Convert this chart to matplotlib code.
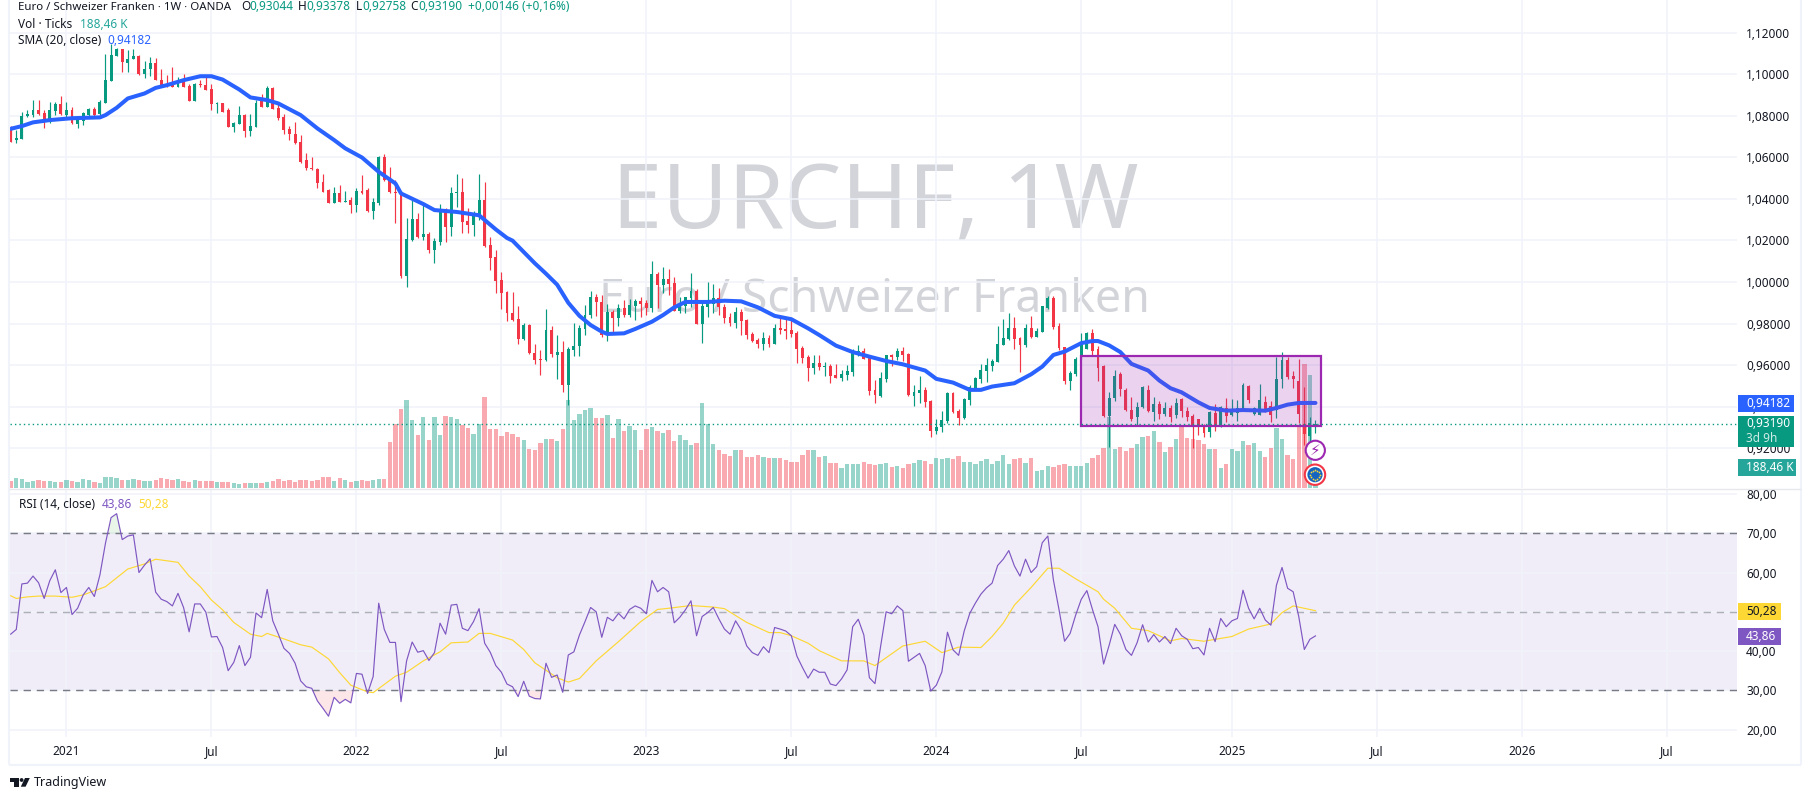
import numpy as np
import matplotlib
matplotlib.use("Agg")
import matplotlib.pyplot as plt
from matplotlib.patches import Rectangle, Circle, Polygon
from matplotlib import font_manager
from matplotlib.transforms import IdentityTransform, blended_transform_factory

directions = ("rggggrrggr" "grgggrgggg" "rggrggrrrr" "grrgrrrgrr" "ggrggrgrrr" "rrrrrrrrgr"
              "grgrrggrrr" "rggrgrggrg" "grrggrrrrr" "rrgrrrgrgr" "gggggrrgrg" "rggrrgrgrr"
              "gggrgggrrr" "grrrrgrgrr" "rrrrgrgrrg" "gggrrrggrg" "rrggrrgggr" "rggggggggg"
              "rrgrgggrrr" "ggggrrrggr" "rrggrgrgrg" "rrrrrgrgrg" "ggrggrrggr" "rrrgg")
highs = [1.0750,1.0731,1.0819,1.0827,1.0875,1.0875,1.0827,1.0864,1.0867,1.0894,
1.0867,1.0843,1.0798,1.0816,1.0838,1.0843,1.0875,1.1099,1.1147,1.1127,
1.1120,1.1115,1.1119,1.1091,1.1064,1.1083,1.1080,1.1024,1.0995,1.1032,
1.0987,1.1003,1.0952,1.0958,1.0974,1.0990,1.0952,1.0867,1.0862,1.0835,
1.0769,1.0846,1.0806,1.0808,1.0878,1.0904,1.0942,1.0939,1.0867,1.0808,
1.0750,1.0769,1.0707,1.0619,1.0599,1.0550,1.0522,1.0447,1.0458,1.0466,
1.0438,1.0410,1.0450,1.0514,1.0450,1.0405,1.0606,1.0615,1.0555,1.0490,
1.0439,1.0306,1.0394,1.0330,1.0386,1.0242,1.0210,1.0375,1.0354,1.0458,
1.0519,1.0498,1.0354,1.0343,1.0519,1.0482,1.0215,1.0154,1.0050,0.9955,
0.9954,0.9886,0.9803,0.9800,0.9704,0.9675,0.9870,0.9790,0.9747,0.9718,
0.9686,0.9803,0.9795,0.9891,0.9959,0.9944,0.9938,0.9894,0.9865,0.9894,
0.9913,0.9918,0.9918,0.9926,0.9913,1.0101,1.0046,1.0074,1.0063,1.0022,
0.9929,0.9929,1.0045,0.9966,0.9913,1.0002,0.9989,0.9970,0.9894,0.9849,
0.9881,0.9869,0.9822,0.9761,0.9729,0.9761,0.9745,0.9796,0.9841,0.9825,
0.9817,0.9764,0.9692,0.9647,0.9647,0.9649,0.9617,0.9604,0.9606,0.9577,
0.9601,0.9676,0.9697,0.9681,0.9638,0.9529,0.9569,0.9649,0.9654,0.9681,
0.9686,0.9657,0.9505,0.9550,0.9497,0.9433,0.9340,0.9377,0.9473,0.9473,
0.9388,0.9441,0.9505,0.9545,0.9606,0.9633,0.9628,0.9788,0.9822,0.9849,
0.9830,0.9737,0.9798,0.9837,0.9777,0.9885,0.9933,0.9933,0.9801,0.9689,
0.9574,0.9638,0.9755,0.9758,0.9773,0.9690,0.9603,0.9473,0.9579,0.9566,
0.9489,0.9445,0.9424,0.9502,0.9506,0.9448,0.9429,0.9424,0.9408,0.9442,
0.9442,0.9397,0.9364,0.9342,0.9319,0.9381,0.9413,0.9405,0.9442,0.9437,
0.9432,0.9514,0.9505,0.9397,0.9510,0.9453,0.9429,0.9639,0.9661,0.9639,
0.9574,0.9631,0.9497,0.9352,0.93378]
body_tops = [1.0747,1.0691,1.0801,1.0806,1.0827,1.0827,1.0814,1.0827,1.0856,1.0856,
1.0827,1.0827,1.0792,1.0811,1.0833,1.0830,1.0865,1.0971,1.1091,1.1120,
1.1119,1.1075,1.1087,1.1087,1.1027,1.1056,1.1056,1.0974,1.0955,1.0963,
1.0974,1.0978,1.0942,1.0952,1.0952,1.0947,1.0928,1.0862,1.0859,1.0827,
1.0766,1.0803,1.0803,1.0750,1.0859,1.0883,1.0933,1.0933,1.0838,1.0793,
1.0736,1.0710,1.0673,1.0587,1.0550,1.0543,1.0479,1.0442,1.0426,1.0426,
1.0391,1.0394,1.0439,1.0439,1.0442,1.0386,1.0603,1.0603,1.0498,1.0434,
1.0434,1.0208,1.0303,1.0303,1.0231,1.0231,1.0196,1.0346,1.0346,1.0426,
1.0434,1.0434,1.0295,1.0325,1.0394,1.0394,1.0178,1.0119,1.0010,0.9954,
0.9851,0.9822,0.9795,0.9795,0.9660,0.9631,0.9771,0.9771,0.9665,0.9665,
0.9679,0.9694,0.9780,0.9841,0.9928,0.9928,0.9905,0.9857,0.9857,0.9873,
0.9873,0.9889,0.9909,0.9909,0.9901,1.0038,1.0038,1.0014,1.0014,0.9997,
0.9885,0.9926,0.9957,0.9958,0.9885,0.9897,0.9921,0.9921,0.9878,0.9830,
0.9857,0.9857,0.9819,0.9750,0.9721,0.9729,0.9729,0.9777,0.9780,0.9774,
0.9769,0.9755,0.9684,0.9641,0.9612,0.9609,0.9596,0.9598,0.9554,0.9558,
0.9572,0.9670,0.9670,0.9670,0.9633,0.9481,0.9537,0.9647,0.9647,0.9668,
0.9667,0.9654,0.9470,0.9481,0.9479,0.9428,0.9301,0.9337,0.9465,0.9465,
0.9380,0.9437,0.9494,0.9538,0.9577,0.9601,0.9620,0.9702,0.9732,0.9779,
0.9779,0.9731,0.9779,0.9779,0.9763,0.9883,0.9921,0.9925,0.9787,0.9686,
0.9561,0.9628,0.9711,0.9755,0.9755,0.9676,0.9594,0.9444,0.9550,0.9555,
0.9482,0.9385,0.9400,0.9494,0.9482,0.9414,0.9413,0.9395,0.9395,0.9419,
0.9439,0.9381,0.9355,0.9342,0.9305,0.9376,0.9369,0.9398,0.9394,0.9384,
0.9394,0.9506,0.9502,0.9394,0.9434,0.9424,0.9405,0.9531,0.9627,0.9627,
0.9550,0.9526,0.9316,0.9324,0.93190]
body_bottoms = [1.0675,1.0683,1.0688,1.0801,1.0803,1.0808,1.0768,1.0768,1.0824,1.0808,
1.0803,1.0763,1.0760,1.0776,1.0803,1.0804,1.0806,1.0862,1.0968,1.1087,
1.1059,1.1056,1.1075,1.1000,1.1000,1.1024,1.0971,1.0947,1.0939,1.0939,
1.0939,1.0939,1.0872,1.0872,1.0947,1.0923,1.0856,1.0857,1.0819,1.0747,
1.0747,1.0760,1.0726,1.0726,1.0747,1.0843,1.0843,1.0833,1.0790,1.0731,
1.0710,1.0667,1.0579,1.0550,1.0546,1.0478,1.0434,1.0381,1.0381,1.0386,
1.0386,1.0372,1.0372,1.0429,1.0341,1.0343,1.0381,1.0490,1.0431,1.0429,
1.0030,1.0030,1.0202,1.0215,1.0215,1.0154,1.0154,1.0194,1.0266,1.0266,
1.0426,1.0290,1.0274,1.0274,1.0317,1.0173,1.0114,1.0005,0.9949,0.9849,
0.9819,0.9728,0.9728,0.9657,0.9627,0.9627,0.9623,0.9652,0.9651,0.9506,
0.9506,0.9675,0.9691,0.9776,0.9840,0.9902,0.9744,0.9745,0.9829,0.9829,
0.9841,0.9841,0.9885,0.9894,0.9877,0.9877,0.9986,0.9986,0.9990,0.9862,
0.9861,0.9885,0.9921,0.9800,0.9800,0.9878,0.9894,0.9878,0.9829,0.9804,
0.9804,0.9812,0.9745,0.9718,0.9702,0.9702,0.9702,0.9702,0.9769,0.9766,
0.9750,0.9679,0.9636,0.9587,0.9587,0.9590,0.9593,0.9548,0.9540,0.9540,
0.9553,0.9566,0.9649,0.9630,0.9476,0.9454,0.9452,0.9534,0.9641,0.9641,
0.9649,0.9454,0.9452,0.9465,0.9425,0.9285,0.9284,0.9300,0.9332,0.9375,
0.9348,0.9345,0.9433,0.9489,0.9534,0.9574,0.9596,0.9617,0.9697,0.9728,
0.9726,0.9697,0.9696,0.9734,0.9737,0.9761,0.9877,0.9782,0.9681,0.9526,
0.9524,0.9558,0.9639,0.9676,0.9666,0.9584,0.9353,0.9353,0.9440,0.9484,
0.9384,0.9339,0.9352,0.9397,0.9377,0.9376,0.9366,0.9366,0.9352,0.9360,
0.9377,0.9352,0.9313,0.9313,0.9273,0.9276,0.9305,0.9305,0.9356,0.9358,
0.9371,0.9384,0.9434,0.9364,0.9361,0.9384,0.9361,0.9384,0.9531,0.9545,
0.9531,0.9364,0.9268,0.9260,0.93044]
lows = [1.0675,1.0667,1.0688,1.0795,1.0795,1.0803,1.0742,1.0766,1.0803,1.0803,
1.0792,1.0758,1.0742,1.0753,1.0795,1.0787,1.0803,1.0862,1.0968,1.1087,
1.1011,1.1011,1.1072,1.0994,1.0981,1.0990,1.0971,1.0936,1.0936,1.0936,
1.0936,1.0936,1.0870,1.0870,1.0939,1.0923,1.0827,1.0811,1.0816,1.0747,
1.0721,1.0760,1.0699,1.0702,1.0747,1.0843,1.0843,1.0830,1.0779,1.0710,
1.0683,1.0663,1.0574,1.0538,1.0538,1.0454,1.0434,1.0381,1.0381,1.0383,
1.0386,1.0330,1.0337,1.0423,1.0338,1.0304,1.0369,1.0487,1.0429,1.0285,
1.0019,0.9978,1.0199,1.0210,1.0202,1.0138,1.0093,1.0178,1.0194,1.0221,
1.0362,1.0234,1.0234,1.0221,1.0298,1.0170,1.0058,0.9947,0.9870,0.9811,
0.9814,0.9704,0.9720,0.9655,0.9607,0.9554,0.9619,0.9638,0.9535,0.9470,
0.9410,0.9646,0.9646,0.9747,0.9825,0.9835,0.9734,0.9718,0.9756,0.9788,
0.9830,0.9830,0.9817,0.9830,0.9841,0.9857,0.9873,0.9946,0.9938,0.9862,
0.9849,0.9853,0.9881,0.9798,0.9708,0.9830,0.9853,0.9841,0.9804,0.9788,
0.9780,0.9745,0.9726,0.9713,0.9681,0.9673,0.9689,0.9700,0.9750,0.9726,
0.9734,0.9609,0.9609,0.9524,0.9558,0.9577,0.9550,0.9516,0.9540,0.9526,
0.9529,0.9550,0.9646,0.9628,0.9457,0.9420,0.9449,0.9521,0.9598,0.9625,
0.9620,0.9452,0.9405,0.9417,0.9401,0.9256,0.9271,0.9280,0.9324,0.9372,
0.9311,0.9340,0.9409,0.9486,0.9516,0.9521,0.9572,0.9614,0.9697,0.9721,
0.9678,0.9566,0.9689,0.9729,0.9734,0.9758,0.9869,0.9772,0.9673,0.9510,
0.9481,0.9550,0.9631,0.9676,0.9644,0.9523,0.9352,0.9206,0.9429,0.9453,
0.9377,0.9332,0.9308,0.9394,0.9374,0.9332,0.9340,0.9356,0.9327,0.9348,
0.9352,0.9332,0.9200,0.9264,0.9252,0.9252,0.9284,0.9303,0.9327,0.9355,
0.9332,0.9381,0.9419,0.9360,0.9360,0.9373,0.9327,0.9344,0.9489,0.9534,
0.9490,0.9324,0.9216,0.9236,0.92758]
volumes_k = [63,90,81,54,63,72,63,63,54,54,72,63,54,81,72,54,45,99,99,90,
72,72,81,72,63,63,72,90,81,72,81,63,54,72,63,63,63,54,54,54,
45,36,45,45,45,45,54,63,81,63,72,54,72,72,63,72,99,99,63,90,
72,54,63,72,63,72,81,81,414,576,711,792,612,477,639,432,639,477,648,639,
621,567,540,486,576,819,531,531,468,504,486,459,432,351,342,405,441,441,423,531,
792,612,666,702,720,630,630,657,450,621,513,558,522,342,531,549,513,495,522,423,
477,432,387,405,765,576,396,342,306,288,342,342,279,279,297,279,270,270,270,252,
234,234,297,342,342,279,288,225,225,180,216,216,216,234,216,207,216,225,189,198,
180,216,225,252,243,216,270,261,270,261,288,234,234,216,243,261,216,243,297,216,
261,270,225,270,153,162,198,189,207,216,198,198,198,225,270,297,360,642,351,369,
333,360,396,459,468,513,414,324,369,441,558,450,441,432,396,351,351,180,216,351,
333,423,387,405,333,279,360,540,441,297,261,558,1116,1017,188.46]
sma_bars = [0,2,4,7,11,16,17,19,21,24,26,28,31,34,36,38,41,43,46,48,52,55,58,60,63,66,69,70,74,76,80,84,87,89,90,94,96,98,
100,102,104,106,107,110,112,115,117,119,121,125,128,131,134,137,140,143,145,148,151,154,157,160,164,166,169,172,174,176,
180,183,185,187,189,192,194,195,197,199,201,204,206,208,210,213,215,218,221,225,227,229,231,234]
sma_values = [1.0737,1.0750,1.0768,1.0779,1.0788,1.0792,1.0803,1.0838,1.0883,1.0907,1.0934,1.0947,1.0971,1.0990,1.0990,1.0974,1.0926,1.0888,1.0875,1.0859,
1.0803,1.0739,1.0683,1.0643,1.0599,1.0530,1.0474,1.0426,1.0375,1.0346,1.0337,1.0321,1.0253,1.0212,1.0199,1.0090,1.0040,0.9987,
0.9900,0.9837,0.9793,0.9761,0.9750,0.9753,0.9774,0.9809,0.9841,0.9878,0.9904,0.9904,0.9910,0.9907,0.9878,0.9837,0.9821,0.9777,0.9745,0.9694,0.9663,0.9641,
0.9620,0.9604,0.9574,0.9534,0.9516,0.9481,0.9481,0.9497,0.9513,0.9556,0.9593,0.9649,0.9665,0.9706,0.9716,0.9716,0.9695,0.9663,0.9606,0.9574,0.9526,0.9489,
0.9469,0.9421,0.9394,0.9381,0.9384,0.9381,0.9394,0.9410,0.9418,0.94182]
rsi_values = [44.3,45.5,57.1,57.3,59.1,57.4,53.4,57.9,60.7,54.9,56.2,49.3,50.9,54.3,56.2,53.9,59.4,67.5,74.0,75.0,
68.4,69.3,69.6,60.0,61.9,63.5,55.0,53.2,52.6,51.5,54.7,51.1,44.9,52.0,52.0,49.9,43.6,43.7,40.9,35.0,
37.1,41.4,36.3,38.4,49.7,48.5,55.7,47.7,44.3,40.7,39.4,36.9,32.4,30.9,30.5,27.3,25.4,23.4,28.2,26.7,
27.7,26.8,34.3,34.1,29.2,33.5,52.2,45.5,42.2,42.2,27.1,37.5,42.3,39.7,40.1,37.6,39.6,47.1,44.3,51.7,
51.9,45.8,45.2,47.5,50.8,42.0,39.7,36.3,34.6,31.6,30.9,28.4,32.3,28.5,27.9,27.8,36.9,33.3,33.9,29.5,
39.0,39.8,44.1,47.5,51.1,50.0,43.5,48.6,47.7,49.6,48.2,50.6,51.5,50.9,49.5,58.0,55.1,56.2,55.1,47.2,
48.6,50.5,52.8,43.9,
48.8,49.8,51.1,48.2,45.6,44.3,47.7,45.4,41.3,39.6,38.9,41.1,39.6,46.0,45.6,45.1,43.9,38.7,35.8,33.1,
35.4,34.6,34.6,31.6,31.2,32.9,35.2,46.2,48.1,44.1,33.2,31.7,41.1,50.0,49.5,51.5,50.3,37.4,38.4,39.4,
36.3,29.8,31.3,34.7,44.8,40.3,38.9,45.1,49.6,52.2,54.5,56.1,57.3,61.8,63.4,65.6,61.7,59.1,63.4,60.0,
61.5,67.6,69.3,58.1,50.6,42.5,44.5,49.2,53.2,55.4,50.6,46.2,36.7,41.5,46.8,44.3,40.4,38.9,42.1,46.7,
42.3,44.2,42.3,43.7,41.9,45.8,43.9,43.0,40.6,40.9,39.0,45.8,42.4,48.3,46.2,47.7,48.3,55.5,50.9,48.2,
50.9,47.9,46.6,56.8,61.3,56.0,55.1,48.8,40.4,43.0,43.86]
rsi_ma_bars = [0,1,3,5,8,11,13,17,21,24,26,30,32,34,36,38,40,43,45,46,49,52,54,57,59,61,64,65,69,71,74,77,79,82,84,86,90,92,94,98,100,102,105,109,113,116,118,
122,126,128,132,136,138,140,143,145,149,153,155,160,164,167,170,174,176,178,180,183,186,188,191,195,196,198,201,204,208,210,214,219,222,226,228,230,234]
rsi_ma_values = [54.1,53.4,53.8,54.0,54.0,53.7,54.3,56.4,60.9,62.2,63.4,62.6,59.1,56.4,53.0,50.5,47.3,44.3,43.7,44.5,43.1,41.6,41.0,38.0,34.5,31.3,29.6,29.4,33.6,34.6,37.5,39.8,42.1,42.3,44.5,44.5,42.8,40.4,37.0,33.2,32.1,33.0,37.5,42.4,47.5,50.6,50.9,
51.6,51.2,50.8,47.3,44.7,44.7,43.9,42.0,40.1,37.5,37.5,36.3,41.3,42.5,39.6,41.0,40.9,43.7,47.1,51.7,56.2,61.1,61.1,58.4,55.1,53.2,50.9,45.8,45.2,42.6,43.2,42.5,43.7,45.6,46.9,49.8,51.5,50.28]
price_ticks = [0.92,0.94,0.96,0.98,1.00,1.02,1.04,1.06,1.08,1.10,1.12]
price_tick_labels = ["0,92000","0,94000","0,96000","0,98000","1,00000","1,02000","1,04000","1,06000","1,08000","1,10000","1,12000"]
rsi_ticks = [20,30,40,50,60,70,80]
rsi_tick_labels = ["20,00","30,00","40,00","50,00","60,00","70,00","80,00"]
time_tick_bars = [10,36,62,88,114,140,166,192,219,245,271,297]
time_tick_labels = ["2021","Jul","2022","Jul","2023","Jul","2024","Jul","2025","Jul","2026","Jul"]
box_bars = (191.9, 235.0)
box_prices = (0.93086, 0.96454)

W, H = 1811, 800
FONT = "Noto Sans"
TXT = "#131722"
UP, DOWN = "#089981", "#F23645"
GRID = "#F0F3FA"
plt.rcParams["font.family"] = FONT
fig = plt.figure(figsize=(W/100, H/100), dpi=100, facecolor="white")

def pane(x0, y0, x1, y1, **kw):
    return fig.add_axes([x0/W, 1-y1/H, (x1-x0)/W, (y1-y0)/H], **kw)

BAR0, BARW = 10.7, 5.576
xlim = ((10-BAR0)/BARW, (1737-BAR0)/BARW)
n = len(highs)
bars = np.arange(n)
up = np.array([d == "g" for d in directions])
cols = np.where(up, UP, DOWN)

# ---- price pane
ax = pane(10, 0, 1737, 488)
ax.set_xlim(*xlim)
ax.set_ylim(1.0-(488-282)/41.57*0.02, 1.0+282/41.57*0.02)
ax.set_yticks(price_ticks, price_tick_labels)
ax.set_xticks(time_tick_bars, [])
ax.grid(True, color=GRID, lw=1.1, zorder=0)
ax.set_axisbelow(True)
for s in ax.spines.values():
    s.set_visible(False)
try:
    font_manager.findfont("Liberation Sans Narrow", fallback_to_default=False)
    big_font, big_size = "Liberation Sans Narrow", 70.5
except ValueError:
    big_font, big_size = FONT, 65
px_y = blended_transform_factory(IdentityTransform(), ax.transData)
ax.text(875.5, 1.0+(282-228)/41.57*0.02, "EURCHF, 1W", ha="center", va="baseline", transform=px_y,
        fontsize=big_size, family=big_font, color="#D3D4D9", zorder=0.5)
ax.text(874, 1.0+(282-312)/41.57*0.02, "Euro / Schweizer Franken", ha="center", va="baseline", transform=px_y,
        fontsize=33.4, color="#D3D4D9", zorder=0.5)

axv = ax.twinx()
axv.set_ylim(0, 488*9)
axv.set_axis_off()
axv.bar(bars, volumes_k, width=0.78, color=cols, alpha=0.42, lw=0, zorder=2)

axc = ax.twinx()
axc.set_ylim(*ax.get_ylim())
axc.set_axis_off()
axc.vlines(bars, lows, highs, colors=cols, lw=0.85, zorder=3)
heights = np.maximum(np.array(body_tops)-np.array(body_bottoms), 0.00035)
axc.bar(bars, heights, bottom=body_bottoms, width=0.52, color=cols, lw=0, zorder=3.1)
axc.plot(sma_bars, sma_values, color="#2962FF", lw=2.9, zorder=4, solid_capstyle="round", solid_joinstyle="round")
axc.add_patch(Rectangle((box_bars[0], box_prices[0]), box_bars[1]-box_bars[0], box_prices[1]-box_prices[0],
                        facecolor=(156/255,39/255,176/255,0.2), edgecolor="#9C27B0", lw=1.6, zorder=5))
axc.axhline(0.93190, color=UP, lw=1, ls=(0, (1, 2.2)), zorder=6)
# twinx moves the host's ticks to the left, so put them back on the right
ax.yaxis.tick_right()
ax.tick_params(length=0, labelsize=8.5, labelcolor=TXT, pad=6.5)

# ---- RSI pane
axr = pane(10, 489, 1737, 737)
axr.set_xlim(*xlim)
axr.set_ylim(30-(737-690.3)/3.925, 70+(533.3-489)/3.925)
axr.set_yticks(rsi_ticks, rsi_tick_labels)
axr.set_xticks(time_tick_bars, time_tick_labels)
axr.yaxis.tick_right()
axr.tick_params(length=0, labelsize=8.5, labelcolor=TXT)
axr.tick_params(axis="y", pad=6.5)
axr.tick_params(axis="x", pad=5.5)
for lab, txt in zip(axr.get_xticklabels(), time_tick_labels):
    if txt != "Jul":
        lab.set_fontweight("bold")
axr.grid(True, color=GRID, lw=1.1, zorder=0)
axr.set_axisbelow(True)
for s in axr.spines.values():
    s.set_visible(False)
axr.axhspan(30, 70, color="#7E57C2", alpha=0.1, lw=0, zorder=0.5)
rsi = np.array(rsi_values)
rb = np.arange(len(rsi))
axr.fill_between(rb, 70, rsi, where=rsi > 70, interpolate=True, color="#4CAF50", alpha=0.12, lw=0, zorder=1)
axr.fill_between(rb, 30, rsi, where=rsi < 30, interpolate=True, color="#F23645", alpha=0.12, lw=0, zorder=1)
axr.axhline(70, color="#787B86", lw=1.05, ls=(0, (5, 4)), zorder=1.5)
axr.axhline(50, color="#787B86", lw=1.05, ls=(0, (5, 4)), alpha=0.55, zorder=1.5)
axr.axhline(30, color="#787B86", lw=1.05, ls=(0, (5, 4)), zorder=1.5)
axr.plot(rsi_ma_bars, rsi_ma_values, color="#FDD835", lw=0.85, zorder=2)
axr.plot(rb, rsi, color="#7E57C2", lw=0.85, zorder=3)

# ---- overlay in pixel units: legends, tags, borders, icons
ov = fig.add_axes([0, 0, 1, 1], zorder=20)
ov.set_xlim(0, W)
ov.set_ylim(H, 0)
ov.axis("off")
ov.patch.set_alpha(0)
for xs, ys, c, lw in [((9, 9), (0, 765), GRID, 1.5), ((1801, 1801), (0, 765), GRID, 1.5),
                      ((9, 1801), (765, 765), GRID, 1.5), ((9, 1801), (488.5, 488.5), "#E6E8EE", 1.0)]:
    ov.plot(xs, ys, color=c, lw=lw, solid_capstyle="butt", zorder=0)

def t(x, y, s, c=TXT, fs=8.5, **kw):
    ov.text(x, y, s, color=c, fontsize=fs, va="center", ha=kw.pop("ha", "left"), **kw)

t(18, 7, "Euro / Schweizer Franken · 1W · OANDA", fs=8.25)
for x, s in [(241, "O"), (298, "H"), (355.5, "L"), (410.6, "C")]:
    t(x, 7, s)
for x, s in [(249, "0,93044"), (306, "0,93378"), (362, "0,92758"), (418, "0,93190"), (467.7, "+0,00146 (+0,16%)")]:
    t(x, 7, s, UP)
t(18, 24, "Vol · Ticks")
t(80.4, 24, "188,46 K", "#26A69A")
t(18, 41, "SMA (20, close)")
t(107, 41, "0,94182", "#2962FF")
t(18.7, 504, "RSI (14, close)")
t(102, 504, "43,86", "#7E57C2")
t(138, 504, "50,28", "#FDD835")

def tag(y0, y1, x1, color, lines):
    ov.add_patch(Rectangle((1738, y0), x1-1738, y1-y0, facecolor=color, edgecolor="none", zorder=3))
    for yy, s, c in lines:
        ov.text(1746, yy, s, color=c, fontsize=8.5, va="center", ha="left", zorder=4)

tag(395, 411.7, 1794, "#2962FF", [(403.3, "0,94182", "white")])
tag(416, 447, 1794, UP, [(423.5, "0,93190", "white"), (438, "3d 9h", "#CDEBE5")])
tag(459, 476, 1796, "#26A69A", [(467.3, "188,46 K", "white")])
tag(603, 620, 1781, "#FDD835", [(611.5, "50,28", TXT)])
tag(628, 645, 1781, "#7E57C2", [(636.5, "43,86", "white")])

# event icons
ov.add_patch(Circle((1315.3, 450.3), 9.6, facecolor="white", edgecolor="#9C27B0", lw=1.5, zorder=5))
ov.text(1315.3, 450.5, "\u26A1", color="#9C27B0", fontsize=11, ha="center", va="center",
        family="DejaVu Sans", zorder=6)
ov.add_patch(Circle((1315.0, 474.7), 10.2, facecolor="white", edgecolor="#F23645", lw=1.5, zorder=5))
ov.add_patch(Circle((1315.0, 474.7), 7.6, facecolor="#1565C0", edgecolor="none", zorder=6))
ang = np.deg2rad(np.arange(0, 360, 30))
ov.scatter(1315.0+4.8*np.cos(ang), 474.7+4.8*np.sin(ang), s=1.6, color="#FDD835", lw=0, zorder=7)

# TradingView logo
ov.add_patch(Polygon([(10, 778), (19, 778), (19, 786.7), (14.3, 786.7), (14.3, 782), (10, 782)], facecolor="#131722", edgecolor="none"))
ov.add_patch(Circle((21.6, 780), 1.9, facecolor="#131722", edgecolor="none"))
ov.add_patch(Polygon([(25, 778), (29.8, 778), (25.6, 786.7), (20.8, 786.7)], facecolor="#131722", edgecolor="none"))
t(33.5, 782.5, "TradingView", fs=9)

fig.savefig("out.png", dpi=100)
